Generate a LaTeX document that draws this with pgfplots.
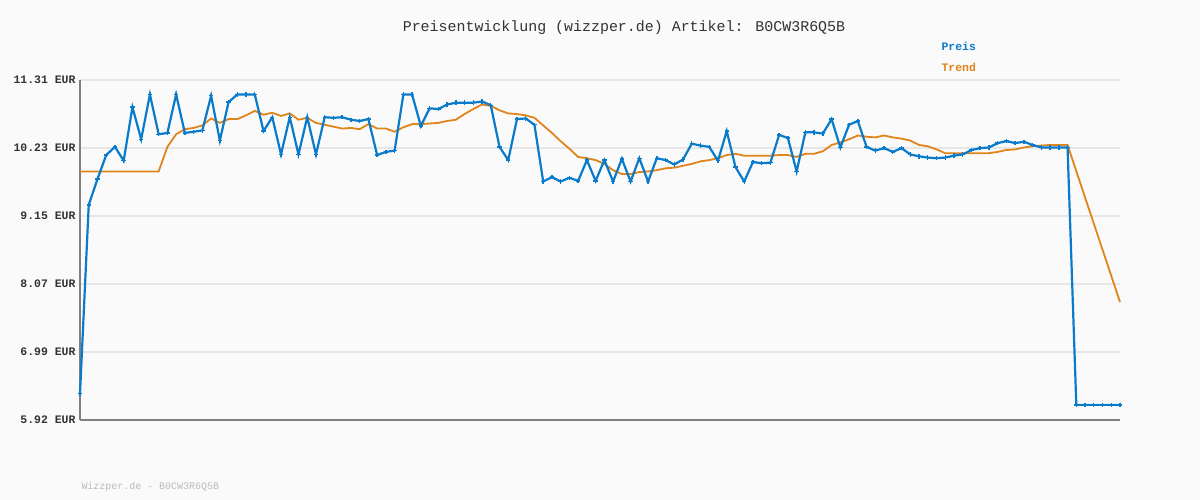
\documentclass[border=0pt]{standalone}
\usepackage{pgfplots}
\pgfplotsset{compat=1.18}
\usepackage{fontspec}
\newfontfamily\mono{Liberation Mono}
\definecolor{bgc}{HTML}{FAFAFA}
\definecolor{preis}{HTML}{0A7BCA}
\definecolor{trend}{HTML}{E0841C}
\definecolor{gridc}{HTML}{E6E6E6}
\definecolor{axc}{HTML}{808080}
\definecolor{lab}{HTML}{333333}
\definecolor{foot}{HTML}{BBBBBB}
\begin{document}
\begin{tikzpicture}[x=1bp,y=1bp]
\fill[bgc] (0,0) rectangle (1200,500);
\begin{axis}[
  at={(80bp,80bp)}, anchor=south west,
  scale only axis, width=1040bp, height=340bp,
  xmin=0, xmax=119, ymin=5.92, ymax=11.31,
  clip=false,
  axis x line=bottom, axis y line=left,
  axis line style={draw=axc, line width=2bp, -},
  xtick=\empty,
  ytick={5.92,6.998,8.076,9.154,10.232,11.31},
  yticklabels={5.92 EUR,6.99 EUR,8.07 EUR,9.15 EUR,10.23 EUR,11.31 EUR},
  yticklabel style={font=\mono\bfseries\fontsize{11.5}{13}\selectfont, text=lab, xshift=-1bp},
  major tick length=0pt,
  ymajorgrids, grid style={draw=gridc, line width=2bp},
]
\addplot[trend, line width=1.8bp, no marks] coordinates {
(0,9.86)(1,9.86)(2,9.86)(3,9.86)(4,9.86)(5,9.86)(6,9.86)(7,9.86)(8,9.86)(9,9.86)
(10,10.25)(11,10.45)(12,10.53)(13,10.55)(14,10.59)(15,10.70)(16,10.63)(17,10.69)(18,10.69)(19,10.75)
(20,10.82)(21,10.76)(22,10.79)(23,10.74)(24,10.78)(25,10.68)(26,10.71)(27,10.63)(28,10.60)(29,10.57)
(30,10.54)(31,10.55)(32,10.53)(33,10.61)(34,10.54)(35,10.54)(36,10.49)(37,10.56)(38,10.61)(39,10.61)
(40,10.62)(41,10.63)(42,10.66)(43,10.68)(44,10.77)(45,10.85)(46,10.92)(47,10.90)(48,10.83)(49,10.78)
(50,10.77)(51,10.75)(52,10.71)(53,10.59)(54,10.47)(55,10.34)(56,10.22)(57,10.09)(58,10.07)(59,10.04)
(60,9.98)(61,9.88)(62,9.82)(63,9.82)(64,9.85)(65,9.86)(66,9.88)(67,9.91)(68,9.92)(69,9.95)
(70,9.98)(71,10.02)(72,10.04)(73,10.07)(74,10.12)(75,10.14)(76,10.11)(77,10.11)(78,10.11)(79,10.11)
(80,10.12)(81,10.12)(82,10.09)(83,10.14)(84,10.14)(85,10.18)(86,10.28)(87,10.32)(88,10.37)(89,10.43)
(90,10.41)(91,10.40)(92,10.43)(93,10.40)(94,10.38)(95,10.35)(96,10.28)(97,10.26)(98,10.21)(99,10.15)
(100,10.15)(101,10.15)(102,10.15)(103,10.15)(104,10.15)(105,10.17)(106,10.20)(107,10.21)(108,10.24)(109,10.26)
(110,10.27)(111,10.28)(112,10.28)(113,10.28)(114,9.865)(115,9.45)(116,9.035)(117,8.62)(118,8.205)(119,7.79)
};
\addplot[preis, line width=2.2bp, mark=+, mark size=2.2bp, mark options={line width=1.4bp}] coordinates {
(0,6.34)(1,9.33)(2,9.74)(3,10.12)(4,10.25)(5,10.03)(6,10.88)(7,10.37)(8,11.08)(9,10.45)
(10,10.47)(11,11.08)(12,10.47)(13,10.49)(14,10.51)(15,11.06)(16,10.35)(17,10.96)(18,11.08)(19,11.08)
(20,11.08)(21,10.50)(22,10.72)(23,10.13)(24,10.72)(25,10.13)(26,10.72)(27,10.13)(28,10.72)(29,10.71)
(30,10.72)(31,10.68)(32,10.66)(33,10.69)(34,10.12)(35,10.17)(36,10.19)(37,11.08)(38,11.08)(39,10.58)
(40,10.86)(41,10.85)(42,10.92)(43,10.95)(44,10.95)(45,10.95)(46,10.97)(47,10.91)(48,10.25)(49,10.04)
(50,10.69)(51,10.70)(52,10.60)(53,9.70)(54,9.77)(55,9.70)(56,9.76)(57,9.71)(58,10.04)(59,9.71)
(60,10.04)(61,9.70)(62,10.06)(63,9.70)(64,10.07)(65,9.70)(66,10.07)(67,10.04)(68,9.97)(69,10.05)
(70,10.30)(71,10.27)(72,10.25)(73,10.03)(74,10.50)(75,9.93)(76,9.70)(77,10.01)(78,9.99)(79,10.00)
(80,10.44)(81,10.39)(82,9.86)(83,10.48)(84,10.48)(85,10.46)(86,10.69)(87,10.24)(88,10.60)(89,10.66)
(90,10.25)(91,10.19)(92,10.23)(93,10.17)(94,10.23)(95,10.13)(96,10.10)(97,10.08)(98,10.07)(99,10.08)
(100,10.11)(101,10.13)(102,10.20)(103,10.23)(104,10.24)(105,10.31)(106,10.34)(107,10.31)(108,10.33)(109,10.28)
(110,10.24)(111,10.24)(112,10.24)(113,10.24)(114,6.16)(115,6.16)(116,6.16)(117,6.16)(118,6.16)(119,6.16)
};
\end{axis}
\node[font=\mono\fontsize{15}{17}\selectfont, text=lab] at (624,472) {Preisentwicklung (wizzper.de) Artikel: B0CW3R6Q5B};
\node[font=\mono\bfseries\fontsize{11.5}{13}\selectfont, text=preis, anchor=west] at (938,454) {Preis};
\node[font=\mono\bfseries\fontsize{11.5}{13}\selectfont, text=trend, anchor=west] at (938,433) {Trend};
\node[font=\mono\fontsize{10}{12}\selectfont, text=foot, anchor=west] at (78,13) {Wizzper.de - B0CW3R6Q5B};
\end{tikzpicture}
\end{document}
